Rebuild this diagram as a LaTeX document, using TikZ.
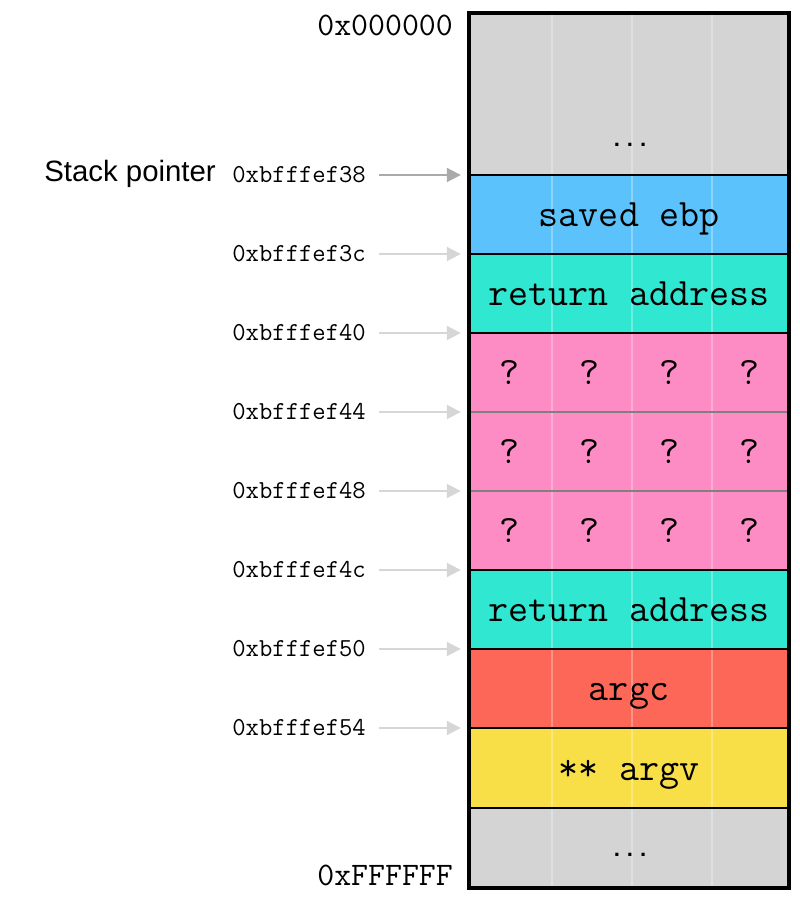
\documentclass[tikz,border=0pt]{standalone}
\usepackage{fontspec}
\newfontfamily\sansfont{Liberation Sans}
\newfontfamily\dotsfont{Liberation Mono}
\usetikzlibrary{arrows.meta}

\definecolor{memgray}{RGB}{212,212,212}
\definecolor{ebpblue}{RGB}{92,194,251}
\definecolor{retteal}{RGB}{48,231,209}
\definecolor{qpink}{RGB}{254,140,196}
\definecolor{argcred}{RGB}{253,103,87}
\definecolor{argvyellow}{RGB}{248,223,72}
\definecolor{ptrgray}{RGB}{170,170,170}
\definecolor{addrgray}{RGB}{214,214,214}
\definecolor{sepgray}{RGB}{128,128,128}

\newcommand{\celltext}{\ttfamily\fontsize{39}{41}\selectfont}
\newcommand{\addrtext}{\ttfamily\fontsize{26}{28}\selectfont}
\newcommand{\limittext}{\ttfamily\fontsize{33}{35}\selectfont}
\newcommand{\dotstext}{\dotsfont\bfseries\fontsize{22}{24}\selectfont}

\tikzset{
  cell/.style={inner sep=0pt, minimum width=320bp, text height=24bp, text depth=0bp,
    font=\celltext,
    path picture={
      \foreach \dx in {83,163,243}
        \draw[white, opacity=.3, line width=2bp]
          ([xshift=\dx bp]path picture bounding box.north west) --
          ([xshift=\dx bp]path picture bounding box.south west);
    }},
  qmark/.style={inner sep=0pt, font=\celltext, text height=24bp, text depth=0bp},
  addr/.style={anchor=east, inner sep=0pt, font=\addrtext, text height=14bp, text depth=0bp},
  addrarrow/.style={draw=addrgray, line width=2bp, -{Triangle[length=14bp,width=14bp]}},
  sep/.style={line width=2.5bp},
}

\begin{document}
\begin{tikzpicture}[x=1bp, y=-1bp]
  \useasboundingbox (0,0) rectangle (800,900);

  % stack cells, top to bottom
  \foreach \name/\ya/\yb/\col/\txt in {
      top/13/175/memgray/{},
      ebp/175/254/ebpblue/saved ebp,
      ret1/254/333/retteal/return address,
      q1/333/412/qpink/{},
      q2/412/491/qpink/{},
      q3/491/570/qpink/{},
      ret2/570/649/retteal/return address,
      argc/649/728/argcred/argc,
      argv/728/808/argvyellow/** argv,
      bottom/808/888/memgray/{}}
    \node[cell, fill=\col, minimum height={(\yb-\ya)*1bp}] (\name) at (629,{(\ya+\yb)/2}) {\txt};

  \foreach \r/\y in {1/372.5, 2/451.5, 3/530.5}
    \foreach \x [count=\k] in {509,589,669,749}
      \node[qmark] (q\r m\k) at (\x,\y) {?};

  \node[anchor=base, inner sep=0pt, font=\dotstext] (topdots) at (630,146) {...};
  \node[anchor=base, inner sep=0pt, font=\dotstext] (botdots) at (630,856) {...};

  \foreach \name in {ebp,ret1,q1,ret2,argc,argv,bottom}
    \draw[sep] (\name.north west) -- (\name.north east);
  \foreach \name in {q2,q3}
    \draw[sep, sepgray] (\name.north west) -- (\name.north east);
  \draw[line width=3.5bp] (top.north west) rectangle (bottom.south east);

  % addresses
  \node[anchor=base east, inner sep=0pt, font=\limittext] (lowaddr) at (453,35) {0x000000};
  \node[anchor=base east, inner sep=0pt, font=\limittext] (highaddr) at (453,885) {0xFFFFFF};

  \node[addr] (a38) at (366,175) {0xbfffef38};
  \node[addr] (a3c) at (366,254) {0xbfffef3c};
  \node[addr] (a40) at (366,333) {0xbfffef40};
  \node[addr] (a44) at (366,412) {0xbfffef44};
  \node[addr] (a48) at (366,491) {0xbfffef48};
  \node[addr] (a4c) at (366,570) {0xbfffef4c};
  \node[addr] (a50) at (366,649) {0xbfffef50};
  \node[addr] (a54) at (366,728) {0xbfffef54};

  \draw[addrarrow, draw=ptrgray] ([xshift=13bp]a38.east) -- ([xshift=-8bp]a38.east -| ebp.west);
  \foreach \a/\c in {a3c/ret1, a40/q1, a44/q2, a48/q3, a4c/ret2, a50/argc, a54/argv}
    \draw[addrarrow] ([xshift=13bp]\a.east) -- ([xshift=-8bp]\a.east -| \c.west);

  \node[anchor=base east, inner sep=0pt, font=\sansfont\fontsize{29.5}{31}\selectfont] (sp) at (216,181) {Stack pointer};
\end{tikzpicture}
\end{document}
